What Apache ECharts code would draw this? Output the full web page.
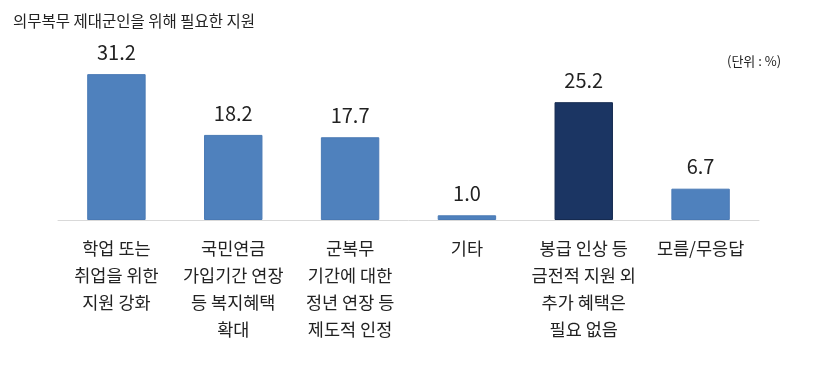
<!DOCTYPE html>
<html><head><meta charset="utf-8">
<script src="https://cdn.jsdelivr.net/npm/echarts@6/dist/echarts.min.js"></script>
<style>html,body{margin:0;padding:0;background:#fff}#c{width:820px;height:370px}</style>
</head><body><div id="c"></div>
<script>
var categories = ['학업 또는\n취업을 위한\n지원 강화','국민연금\n가입기간 연장\n등 복지혜택\n확대','군복무\n기간에 대한\n정년 연장 등\n제도적 인정','기타','봉급 인상 등\n금전적 지원 외\n추가 혜택은\n필요 없음','모름/무응답'];
var values = [31.2, 18.2, 17.7, 1.0, 25.2, 6.7];
var highlightIndex = 4;
var chart = echarts.init(document.getElementById('c'), null, {renderer:'canvas'});
var font = '"Noto Sans CJK KR", sans-serif';
chart.setOption({
  animation:false,
  title:[{text:'의무복무 제대군인을 위해 필요한 지원',left:8,top:8,textStyle:{fontFamily:font,fontSize:15.5,fontWeight:'normal',color:'#222'}},
         {text:'(단위 : %)',left:722,top:50,textStyle:{fontFamily:font,fontSize:13,fontWeight:'normal',color:'#222'}}],
  grid:{left:58,right:61,top:33,bottom:150,containLabel:false},
  xAxis:{type:'category',data:categories,
    axisLine:{lineStyle:{color:'#d9d9d9',width:1}},axisTick:{show:false},
    axisLabel:{interval:0,fontFamily:font,fontSize:17.5,color:'#222',lineHeight:27,margin:15}},
  yAxis:{type:'value',min:0,max:40,show:false,splitLine:{show:false}},
  series:[{type:'bar',barWidth:'50%',
    data:values.map(function(v,i){return {value:v,itemStyle:{color:i===highlightIndex?'#1b3563':'#4f81bd',borderColor:i===highlightIndex?'#152a50':'#4a7ab5',borderWidth:1}};}),
    label:{show:true,position:'top',distance:12,fontFamily:font,fontSize:20,color:'#222',formatter:function(p){return p.value.toFixed(1);}}
  }]
});
</script></body></html>
